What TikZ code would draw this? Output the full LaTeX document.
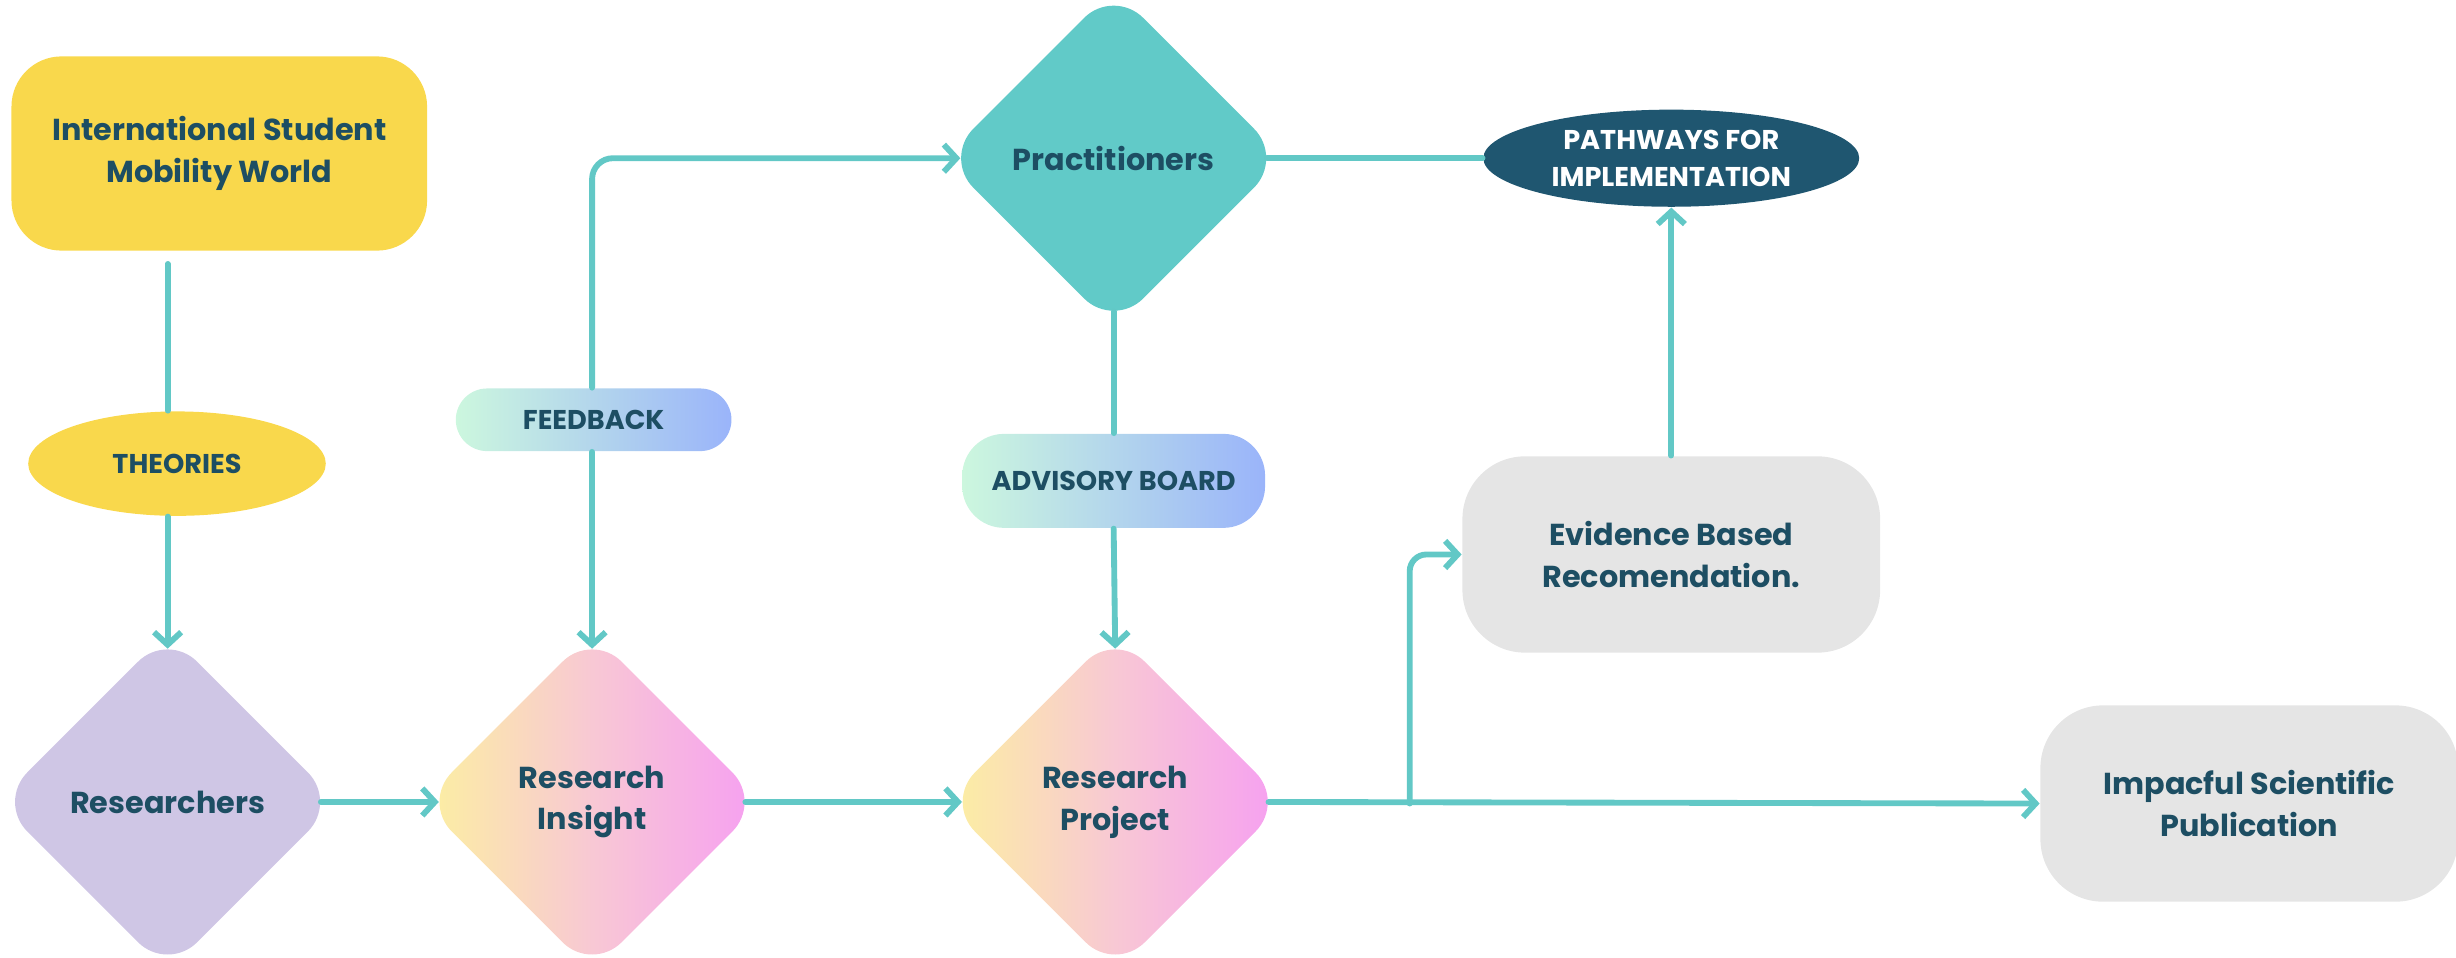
\documentclass[tikz,border=0pt]{standalone}
\usepackage{fontspec}
\setmainfont{Poppins}
\usetikzlibrary{shapes.geometric,arrows.meta}

\definecolor{inktext}{RGB}{29,78,99}
\definecolor{linkteal}{RGB}{98,200,198}
\definecolor{sunyellow}{RGB}{249,216,76}
\definecolor{lavender}{RGB}{207,198,229}
\definecolor{practeal}{RGB}{97,202,200}
\definecolor{deepteal}{RGB}{31,86,112}
\definecolor{softgray}{RGB}{229,229,229}
\definecolor{gradyellow}{RGB}{252,240,160}
\definecolor{gradpink}{RGB}{248,200,212}
\definecolor{gradmagenta}{RGB}{246,158,242}
\definecolor{pillmint}{RGB}{204,247,222}
\definecolor{pillblue}{RGB}{154,180,250}

\tikzset{every picture/.style={line width=0.75pt}}
\tikzset{
  bigtext/.style={text=inktext,font=\bfseries\fontsize{14.5}{20}\selectfont,align=center},
  captext/.style={text=inktext,font=\bfseries\fontsize{13}{17.5}\selectfont,align=center},
  rhomb/.style={diamond,minimum width=158pt,minimum height=158pt,inner sep=0pt,rounded corners=20pt,outer sep=-5.6pt,bigtext},
  sunset/.style={left color=gradyellow,right color=gradmagenta,middle color=gradpink},
  greybox/.style={rectangle,fill=softgray,rounded corners=30pt,minimum width=200pt,minimum height=94pt,bigtext},
  pill/.style={rectangle,left color=pillmint,right color=pillblue,captext},
  link/.style={draw=linkteal,line width=2.8pt,line cap=round,line join=round},
  >={Straight Barb[length=6pt,width=13pt]}
}

\begin{document}
\begin{tikzpicture}[x=0.75pt,y=0.75pt,yscale=-1,xscale=1]
\useasboundingbox (0,0) rectangle (1568,611);

% boxes and diamonds
\draw (140,98) node (ismw) [rectangle,fill=sunyellow,rounded corners=24pt,minimum width=199pt,minimum height=93pt,bigtext] {International Student\\Mobility World};
\draw (113,296) node (theo) [ellipse,fill=sunyellow,minimum width=142.5pt,minimum height=50pt,inner sep=0pt,captext] {THEORIES};
\draw (107,512) node (res) [rhomb,fill=lavender] {Researchers};
\draw (378,512) node (ins) [rhomb,sunset] {Research\\Insight};
\draw (712,512) node (proj) [rhomb,sunset] {Research\\Project};
\draw (711,101) node (prac) [rhomb,fill=practeal] {Practitioners};
\draw (379,268) node (fb) [pill,rounded corners=15pt,minimum width=132pt,minimum height=30pt] {FEEDBACK};
\draw (711,307) node (adv) [pill,rounded corners=20pt,minimum width=145pt,minimum height=45pt] {ADVISORY BOARD};
\draw (1067,101) node (pathw) [ellipse,fill=deepteal,minimum width=180pt,minimum height=46.5pt,inner sep=0pt,captext,text=white] {PATHWAYS FOR\\IMPLEMENTATION};
\draw (1067,354) node (evid) [greybox] {Evidence Based\\Recomendation.};
\draw (1436,513) node (pub) [greybox] {Impacful Scientific\\Publication};

% connectors
\draw [link,shorten <=6pt] (ismw.south -| res.north) -- (theo.north -| res.north);
\draw [link,->] (theo.south -| res.north) -- (res.north);
\draw [link,->] (res.east) -- (ins.west);
\draw [link,->] (ins.east) -- (proj.west);
\draw [link,->] (proj.east) -- (pub.west);
\coordinate (fork) at (900,513);
\draw [link,->,rounded corners=8pt] (fork) |- (evid.west);
\draw [link,->] (evid.north) -- (pathw.south);
\draw [link] (prac.east) -- (pathw.west);
\draw [link,<-,rounded corners=10pt] (prac.west) -| (fb.north -| ins.north);
\draw [link,->] (fb.south -| ins.north) -- (ins.north);
\draw [link] (prac.south) -- (adv.north);
\draw [link,->] (adv.south) -- (proj.north);

\end{tikzpicture}
\end{document}
